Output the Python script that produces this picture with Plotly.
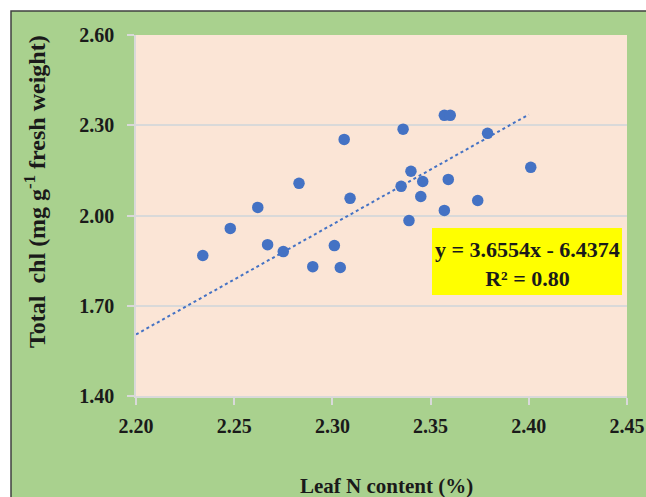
import plotly.graph_objects as go

# Data
leaf_n = [2.234, 2.248, 2.262, 2.267, 2.275, 2.283, 2.290, 2.301, 2.304, 2.306,
          2.309, 2.336, 2.335, 2.340, 2.339, 2.345, 2.346, 2.357, 2.360, 2.357,
          2.359, 2.374, 2.379, 2.401]
total_chl = [1.867, 1.957, 2.027, 1.903, 1.880, 2.107, 1.830, 1.900, 1.827, 2.253,
             2.057, 2.287, 2.097, 2.147, 1.983, 2.063, 2.113, 2.333, 2.333, 2.017,
             2.120, 2.050, 2.273, 2.160]
slope = 3.6554
intercept = -6.4374
r_squared = 0.80
trend_x = [2.20, 2.40]
x_ticks = [2.20, 2.25, 2.30, 2.35, 2.40, 2.45]
y_ticks = [1.40, 1.70, 2.00, 2.30, 2.60]

FONT = "Liberation Serif, Times New Roman, serif"
BLUE = "#4472C4"
GREEN = "#A9D18E"
PEACH = "#FBE5D6"
GRID = "#D9D9D9"

trend_y = [slope * x + intercept for x in trend_x]

fig = go.Figure()
fig.add_trace(go.Scatter(x=trend_x, y=trend_y, mode="lines",
                         line=dict(color=BLUE, width=2, dash="dot"),
                         hoverinfo="skip", showlegend=False))
fig.add_trace(go.Scatter(x=leaf_n, y=total_chl, mode="markers",
                         marker=dict(color=BLUE, size=11.5),
                         showlegend=False))

W, H = 646, 497
L, R, T, B = 136, 19, 35, 101
pw, ph = W - L - R, H - T - B

def px(xp):
    return (xp - L) / pw

def py(yp):
    return (H - B - yp) / ph

shapes = [
    dict(type="rect", xref="paper", yref="paper", x0=px(11), x1=px(700),
         y0=py(560), y1=py(11), fillcolor=GREEN,
         line=dict(color="#404040", width=1.5), layer="below"),
    dict(type="rect", xref="paper", yref="paper", x0=0, x1=1, y0=0, y1=1,
         fillcolor=PEACH, line=dict(width=0), layer="below"),
    dict(type="rect", xref="paper", yref="paper", x0=px(432), x1=px(622),
         y0=py(295), y1=py(228), fillcolor="#FFFF00", line=dict(width=0),
         layer="above"),
]

annotations = [
    dict(text="Total  chl (mg g<sup>-1</sup> fresh weight)", xref="paper", yref="paper",
         x=px(35), y=py(192), xanchor="center", yanchor="middle", textangle=-90,
         showarrow=False, font=dict(family=FONT, size=24, color="#1a1a1a", weight="bold")),
    dict(text="Leaf N content (%)", xref="paper", yref="paper",
         x=px(386), y=py(486), xanchor="center", yanchor="middle",
         showarrow=False, font=dict(family=FONT, size=21, color="#1a1a1a", weight="bold")),
    dict(text=f"y = {slope:.4f}x - {abs(intercept):.4f}<br>R² = {r_squared:.2f}",
         xref="paper", yref="paper", x=px(527), y=py(264), xanchor="center",
         yanchor="middle", showarrow=False, align="center",
         font=dict(family=FONT, size=22, color="#1a1a1a", weight="bold")),
]

tickfont = dict(family=FONT, size=20, color="#1a1a1a", weight="bold")

fig.update_layout(
    width=W, height=H,
    margin=dict(l=L, r=R, t=T, b=B, pad=0, autoexpand=False),
    paper_bgcolor="white",
    plot_bgcolor="rgba(0,0,0,0)",
    shapes=shapes,
    annotations=annotations,
    xaxis=dict(range=[2.20, 2.45], tickvals=x_ticks,
               ticktext=[f"{v:.2f}" for v in x_ticks], automargin=False,
               showgrid=False, zeroline=False, showline=True, linecolor=GRID,
               linewidth=1.5, ticks="outside", ticklen=7, tickcolor=GRID,
               tickwidth=1.5, tickfont=tickfont, ticklabelstandoff=4),
    yaxis=dict(range=[1.40, 2.60], tickvals=y_ticks,
               ticktext=[f"{v:.2f}" for v in y_ticks], automargin=False,
               showgrid=True, gridcolor=GRID, gridwidth=1.5, zeroline=False,
               showline=True, linecolor=GRID, linewidth=1.5, ticks="outside",
               ticklen=7, tickcolor=GRID, tickwidth=1.5, tickfont=tickfont,
               ticklabelstandoff=9),
)

fig.write_html("out.html")
